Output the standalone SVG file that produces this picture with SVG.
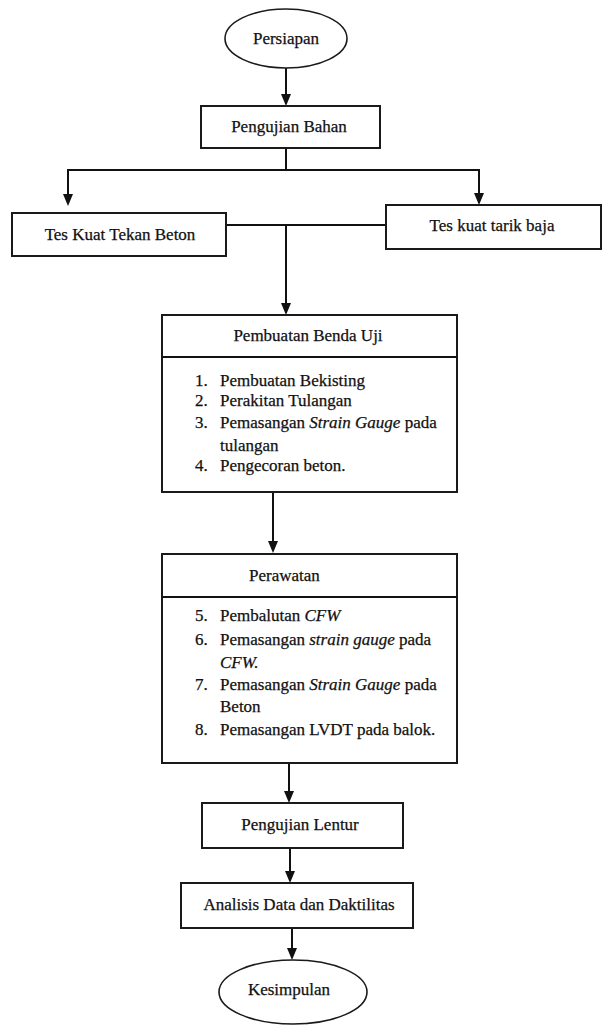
<svg xmlns="http://www.w3.org/2000/svg" width="603" height="1026" viewBox="0 0 603 1026">
<style>
.box{fill:#fff;stroke:#1a1a1a;stroke-width:2}
.ell{fill:#fff;stroke:#1a1a1a;stroke-width:1.6}
.ln{fill:none;stroke:#111;stroke-width:2}
.ah{fill:#111}
text{font-family:"Liberation Serif","Times New Roman",serif;font-size:17px;fill:#111;stroke:#111;stroke-width:0.25}
.c{text-anchor:middle}
.i{font-style:italic}
</style>
<defs>
<path id="arrow" class="ah" d="M-5,-12 L5,-12 L0,0 Z"/>
</defs>
<rect width="603" height="1026" fill="#fff"/>
<g id="connectors">
<line class="ln" x1="286" y1="68" x2="286" y2="104"/>
<use href="#arrow" x="286" y="106"/>
<polyline class="ln" points="286,148 286,170"/>
<polyline class="ln" points="68,203 68,170 479,170 479,203"/>
<use href="#arrow" x="68" y="206"/>
<use href="#arrow" x="479" y="205"/>
<polyline class="ln" points="226,225 386,225"/>
<line class="ln" x1="286" y1="225" x2="286" y2="312"/>
<use href="#arrow" x="286" y="315"/>
<line class="ln" x1="273" y1="492" x2="273" y2="550"/>
<use href="#arrow" x="273" y="553"/>
<line class="ln" x1="289" y1="763" x2="289" y2="800"/>
<use href="#arrow" x="289" y="803"/>
<line class="ln" x1="290" y1="848" x2="290" y2="880"/>
<use href="#arrow" x="290" y="883"/>
<line class="ln" x1="292" y1="928" x2="292" y2="957"/>
<use href="#arrow" x="292" y="960"/>
</g>
<g id="persiapan">
<ellipse class="ell" cx="286" cy="38.5" rx="61" ry="29.5"/>
<text class="c" x="286" y="44">Persiapan</text>
</g>
<g id="pengujian-bahan">
<rect class="box" x="201" y="106" width="179" height="42"/>
<text class="c" x="289" y="132">Pengujian Bahan</text>
</g>
<g id="tes-kuat-tekan">
<rect class="box" x="12" y="213" width="214" height="43"/>
<text class="c" x="120" y="240">Tes Kuat Tekan Beton</text>
</g>
<g id="tes-kuat-tarik">
<rect class="box" x="386" y="205" width="215" height="44"/>
<text class="c" x="492" y="231">Tes kuat tarik baja</text>
</g>
<g id="pembuatan">
<rect class="box" x="162" y="315" width="295" height="177"/>
<line class="ln" x1="162" y1="357" x2="457" y2="357"/>
<text class="c" x="308" y="341">Pembuatan Benda Uji</text>
<text x="195" y="386">1.</text><text x="220" y="386">Pembuatan Bekisting</text>
<text x="195" y="406">2.</text><text x="220" y="406">Perakitan Tulangan</text>
<text x="195" y="428">3.</text><text x="220" y="428">Pemasangan <tspan class="i">Strain Gauge</tspan> pada</text>
<text x="220" y="451">tulangan</text>
<text x="195" y="471">4.</text><text x="220" y="471">Pengecoran beton.</text>
</g>
<g id="perawatan">
<rect class="box" x="162" y="554" width="295" height="209"/>
<line class="ln" x1="162" y1="597" x2="457" y2="597"/>
<text x="249" y="581">Perawatan</text>
<text x="195" y="621">5.</text><text x="220" y="621">Pembalutan <tspan class="i">CFW</tspan></text>
<text x="195" y="645">6.</text><text x="220" y="645">Pemasangan <tspan class="i">strain gauge</tspan> pada</text>
<text x="220" y="668" class="i">CFW.</text>
<text x="195" y="690">7.</text><text x="220" y="690">Pemasangan <tspan class="i">Strain Gauge</tspan> pada</text>
<text x="220" y="712">Beton</text>
<text x="195" y="735">8.</text><text x="220" y="735">Pemasangan LVDT pada balok.</text>
</g>
<g id="pengujian-lentur">
<rect class="box" x="202" y="803" width="201" height="45"/>
<text class="c" x="300" y="830">Pengujian Lentur</text>
</g>
<g id="analisis">
<rect class="box" x="181" y="883" width="232" height="45"/>
<text class="c" x="299" y="910">Analisis Data dan Daktilitas</text>
</g>
<g id="kesimpulan">
<ellipse class="ell" cx="293" cy="992" rx="74" ry="32"/>
<text class="c" x="289" y="995">Kesimpulan</text>
</g>
</svg>
